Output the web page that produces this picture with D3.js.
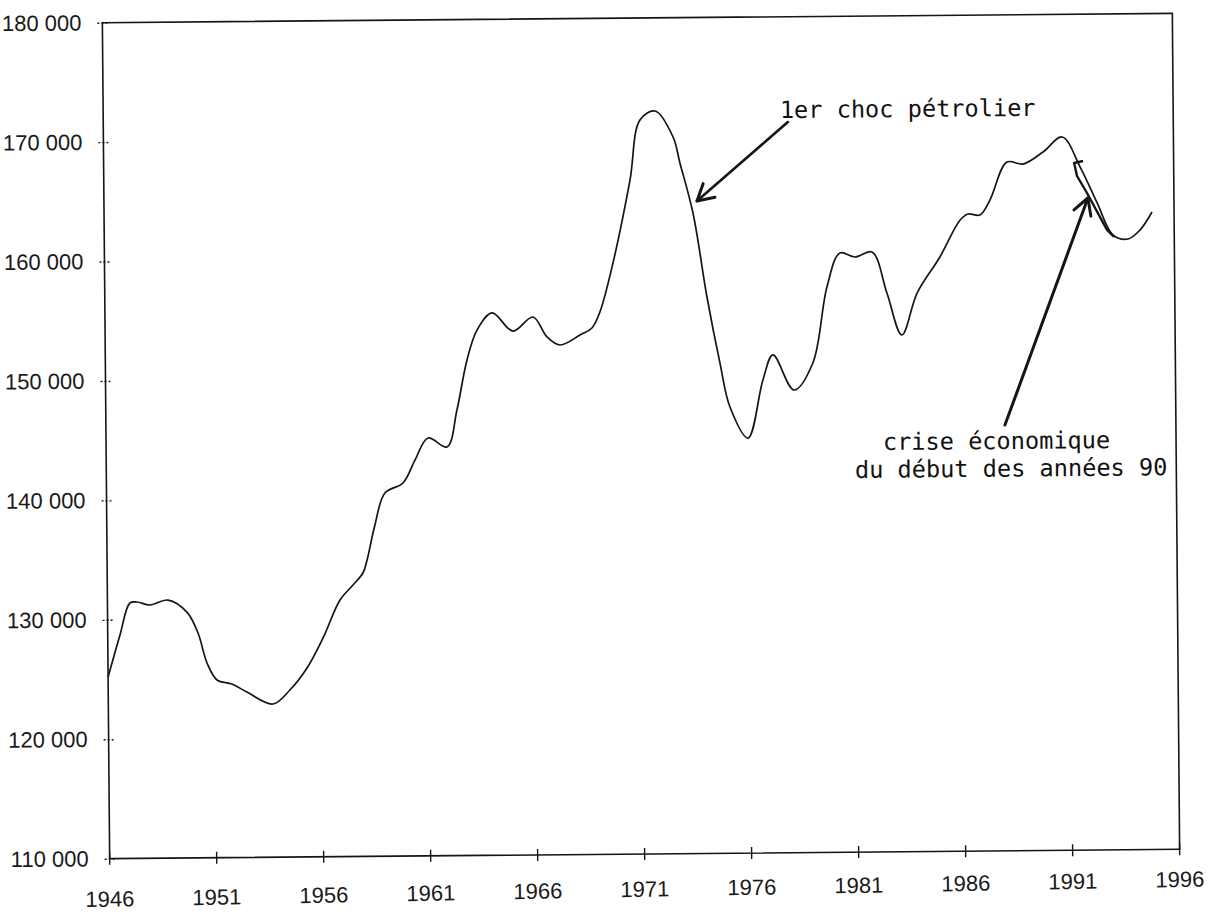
<!DOCTYPE html>
<html>
<head>
<meta charset="utf-8">
<script src="https://cdn.jsdelivr.net/npm/d3@7.9.0/dist/d3.min.js"></script>
<style>
  html, body { margin: 0; background: #fff; }
  svg { display: block; }
  .num { font-family: "Liberation Sans", Arial, sans-serif; font-size: 22px; fill: #1a1a1a; }
  .note { font-family: "DejaVu Sans Mono", "Liberation Mono", monospace; font-size: 23.6px; fill: #111; }
</style>
</head>
<body>
<svg id="chart" width="1212" height="914"></svg>
<script>
// Values (year, value)
const years = [1946, 1946.57, 1947.05, 1947.38, 1947.99, 1948.83, 1949.71, 1950.22, 1950.63, 1951.09,
  1951.79, 1952.48, 1953.69, 1954.49, 1955.30, 1956.06, 1956.87, 1957.48, 1957.95, 1958.15,
  1958.53, 1959.01, 1959.86, 1960.43, 1961.05, 1961.93, 1962.41, 1962.90, 1963.38, 1964.09,
  1965.06, 1966.00, 1966.65, 1967.25, 1968.19, 1968.75, 1969.13, 1969.76, 1970.59, 1971.08,
  1971.79, 1972.62, 1972.93, 1973.52, 1974.14, 1974.72, 1975.17, 1976.00, 1976.72, 1977.20,
  1978.17, 1979.06, 1979.75, 1980.37, 1981.07, 1981.87, 1982.55, 1983.23, 1983.96, 1985.04,
  1986.00, 1986.37, 1986.93, 1987.40, 1988.21, 1988.96, 1989.90, 1990.80, 1991.63, 1992.41,
  1993.14, 1993.84, 1994.40, 1994.97];
const values = [125200, 128700, 131390, 131470, 131210, 131610, 130590, 128830, 126310, 124880,
  124530, 123850, 122830, 123990, 125820, 128320, 131490, 132730, 133730, 134820,
  137740, 140410, 141240, 143150, 144990, 144220, 147310, 151490, 153990, 155410,
  153880, 155040, 153360, 152680, 153500, 154080, 155410, 159500, 166440, 171460,
  172200, 170010, 167830, 163630, 156590, 151050, 147360, 144750, 149600, 151690,
  148740, 150990, 157340, 160180, 159830, 160240, 156790, 153270, 156770, 159770,
  162850, 163350, 163260, 164500, 167670, 167490, 168480, 169730, 167200, 164180,
  161480, 161140, 161880, 163380];

const xTicks = [1946, 1951, 1956, 1961, 1966, 1971, 1976, 1981, 1986, 1991, 1996];
const yTicks = [110000, 120000, 130000, 140000, 150000, 160000, 170000, 180000];

// annotations (data coordinates)
const chocText = { label: '1er choc pétrolier', at: [1977.62, 171520] };
const chocArrow = [[1977.99, 171180], [1973.71, 164640]];
const criseText = [
  { label: 'crise économique', at: [1982.30, 143650] },
  { label: 'du début des années 90', at: [1980.98, 141330] }
];
const criseArrow = [[1988.01, 145650], [1991.98, 164600]];
const handStroke = [[1991.77, 167700], [1991.35, 167540], [1991.48, 166450],
  [1991.94, 165020], [1992.86, 161910], [1993.19, 161320]];

const data = years.map((yr, i) => ({ year: yr, value: values[i] }));

const margin = { top: 18, right: 36, bottom: 60, left: 106 };
const width = 1212, height = 914;

const x = d3.scaleLinear().domain([1946, 1996]).range([margin.left, width - margin.right]);
const y = d3.scaleLinear().domain([110000, 180000]).range([height - margin.bottom, margin.top]);

const fmt = d3.formatLocale({ decimal: ',', thousands: ' ', grouping: [3], currency: ['', ''] }).format(',');

const svg = d3.select('#chart');

// the scan is slightly tilted
const g = svg.append('g')
  .attr('transform', `rotate(-0.5, ${(x.range()[0] + x.range()[1]) / 2}, ${(y.range()[0] + y.range()[1]) / 2})`);

const ink = '#151515';

// frame
g.append('rect')
  .attr('x', x(1946)).attr('y', y(180000))
  .attr('width', x(1996) - x(1946)).attr('height', y(110000) - y(180000))
  .attr('fill', 'none').attr('stroke', ink).attr('stroke-width', 1.6);

// y axis ticks + labels
const yAxis = g.append('g').attr('transform', `translate(${x(1946)},0)`)
  .call(d3.axisLeft(y).tickValues(yTicks).tickFormat(fmt).tickSize(5).tickPadding(16));
yAxis.select('.domain').remove();
yAxis.selectAll('.tick line').attr('x1', -5).attr('x2', 5).attr('stroke', ink).attr('stroke-width', 1.4)
  .attr('stroke-dasharray', '2,2');
yAxis.selectAll('.tick text').attr('class', 'num').attr('font-size', null).attr('font-family', null);

// x ticks
g.append('g').selectAll('line')
  .data(xTicks)
  .join('line')
  .attr('x1', d => x(d)).attr('x2', d => x(d))
  .attr('y1', y(110000) - 6).attr('y2', y(110000) + 6)
  .attr('stroke', ink).attr('stroke-width', 1.4);

// x labels (a touch more tilted in the scan)
g.append('g')
  .attr('transform', `rotate(-0.55, ${x(1946)}, ${y(110000) + 48})`)
  .selectAll('text')
  .data(xTicks)
  .join('text')
  .attr('class', 'num')
  .attr('x', d => x(d))
  .attr('y', y(110000) + 48)
  .attr('text-anchor', 'middle')
  .text(d => d);

// the series
const line = d3.line()
  .x(d => x(d.year))
  .y(d => y(d.value))
  .curve(d3.curveCatmullRom.alpha(0.5));

g.append('path')
  .datum(data)
  .attr('d', line)
  .attr('fill', 'none')
  .attr('stroke', ink)
  .attr('stroke-width', 1.7)
  .attr('stroke-linejoin', 'round');

// hand-drawn mark alongside the 1991-93 drop
g.append('path')
  .datum(handStroke)
  .attr('d', d3.line().x(d => x(d[0])).y(d => y(d[1])))
  .attr('fill', 'none')
  .attr('stroke', ink)
  .attr('stroke-width', 2.4)
  .attr('stroke-linejoin', 'round');

// arrowheads
const defs = svg.append('defs');
defs.append('marker')
  .attr('id', 'head')
  .attr('markerUnits', 'userSpaceOnUse')
  .attr('viewBox', '-20 -12 24 24')
  .attr('refX', 0).attr('refY', 0)
  .attr('markerWidth', 24).attr('markerHeight', 24)
  .attr('orient', 'auto')
  .append('path')
  .attr('d', 'M-16,-9L0,0L-16,9')
  .attr('fill', 'none').attr('stroke', ink).attr('stroke-width', 3)
  .attr('stroke-linecap', 'round').attr('stroke-linejoin', 'round');

function arrow(pts, w) {
  g.append('line')
    .attr('x1', x(pts[0][0])).attr('y1', y(pts[0][1]))
    .attr('x2', x(pts[1][0])).attr('y2', y(pts[1][1]))
    .attr('stroke', ink).attr('stroke-width', w)
    .attr('stroke-linecap', 'round')
    .attr('marker-end', 'url(#head)');
}
arrow(chocArrow, 2.6);
arrow(criseArrow, 3);

// annotation texts (typewriter)
function note(t) {
  g.append('text')
    .attr('class', 'note')
    .attr('x', x(t.at[0]))
    .attr('y', y(t.at[1]))
    .text(t.label);
}
note(chocText);
criseText.forEach(note);
</script>
</body>
</html>
